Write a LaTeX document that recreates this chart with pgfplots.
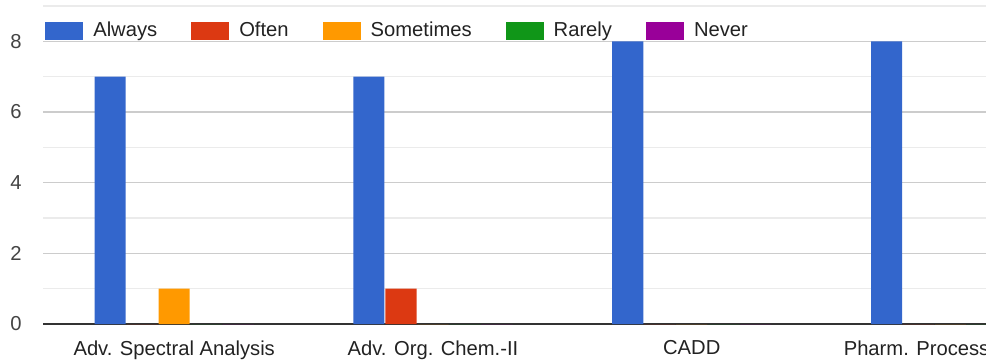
\documentclass[border=0pt]{standalone}
\usepackage{fontspec}
\setmainfont{Liberation Sans}
\usepackage{pgfplots}
\pgfplotsset{compat=1.18}
\usetikzlibrary{calc}
\definecolor{cAlways}{HTML}{3366CC}
\definecolor{cOften}{HTML}{DC3912}
\definecolor{cSometimes}{HTML}{FF9900}
\definecolor{cRarely}{HTML}{109618}
\definecolor{cNever}{HTML}{990099}
\definecolor{gridmajor}{HTML}{CCCCCC}
\definecolor{gridminor}{HTML}{EBEBEB}
\definecolor{axisdark}{HTML}{333333}
\definecolor{textdark}{HTML}{222222}
\definecolor{ticktext}{HTML}{444444}
\newcommand{\chartfont}{\fontsize{10.1}{12}\selectfont}
\pgfplotsset{
  gbar/.style={ybar, draw=none, fill=#1, bar width=0.12,
    legend image code/.code={\fill[#1] (0pt,-4.5pt) rectangle (19pt,4.5pt);}},
}
\begin{document}
\begin{tikzpicture}
\begin{axis}[
  scale only axis, width=471.5pt, height=159pt,
  xmin=-0.507, xmax=3.137, ymin=0, ymax=9,
  axis line style={draw=none},
  major tick length=0pt, minor tick length=0pt,
  xtick={0,1,2,3},
  xticklabels={Adv. Spectral Analysis, Adv. Org. Chem.-II, CADD, Pharm. Process\rule{34pt}{0pt}},
  ytick={0,2,4,6,8}, minor ytick={1,3,5,7,9},
  ymajorgrids, yminorgrids,
  major grid style={draw=gridmajor, line width=0.8pt},
  minor grid style={draw=gridminor, line width=0.7pt},
  extra y ticks={0}, extra y tick labels={},
  extra y tick style={grid=major, major grid style={draw=axisdark, line width=1pt}},
  /pgf/number format/assume math mode=true,
  tick label style={font=\chartfont},
  yticklabel style={anchor=east, inner sep=0pt, xshift=-10.5pt, text=ticktext},
  xticklabel style={anchor=north, inner sep=0pt, yshift=-8pt, text=textdark},
  legend columns=5,
  legend style={at={(0.002,0.922)}, anchor=west, draw=none, fill=none,
    inner sep=0pt, font=\chartfont, text=textdark,
    nodes={inner sep=0pt}, column sep=5pt,
    /tikz/every even column/.append style={column sep=17pt}},
  legend cell align=left,
]
\addplot[gbar=cAlways, bar shift=-0.2474] coordinates {(0,7) (1,7) (2,8) (3,8)};
\addplot[gbar=cOften, bar shift=-0.1237] coordinates {(0,0) (1,1) (2,0) (3,0)};
\addplot[gbar=cSometimes, bar shift=0] coordinates {(0,1) (1,0) (2,0) (3,0)};
\addplot[gbar=cRarely, bar shift=0.1237] coordinates {(0,0) (1,0) (2,0) (3,0)};
\addplot[gbar=cNever, bar shift=0.2474] coordinates {(0,0) (1,0) (2,0) (3,0)};
\legend{Always, Often, Sometimes, Rarely, Never}
\end{axis}
\pgfresetboundingbox
\path ($(current axis.south west)+(-21.5pt,-18pt)$) rectangle ($(current axis.north east)+(0pt,3pt)$);
\end{tikzpicture}
\end{document}
